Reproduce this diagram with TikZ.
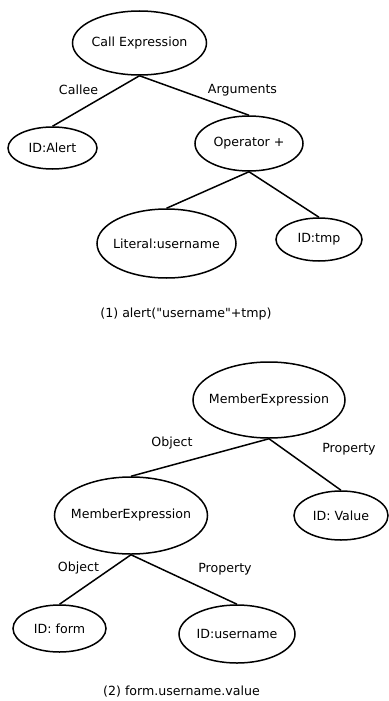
\documentclass[tikz,border=0pt]{standalone}
\usepackage{fontspec}
\setmainfont{DejaVu Sans}
\usetikzlibrary{shapes.geometric}

\begin{document}
\begin{tikzpicture}[
    x=1pt, y=-1pt,
    every node/.style={font=\fontsize{12.6pt}{15pt}\selectfont},
    astnode/.style={ellipse, draw, line width=1.5pt, inner sep=0pt},
    branch/.style={line width=1.5pt},
    rel/.style={inner sep=0pt}
]
\useasboundingbox (0,0) rectangle (388,701);

% (1) call expression
\node[astnode, minimum width=134, minimum height=64, label=center:Call Expression] (call) at (139.5,43) {};
\node[astnode, minimum width=89, minimum height=42, label=center:ID:Alert] (alert) at (52.5,148) {};
\node[astnode, minimum width=108, minimum height=55, label=center:Operator +] (plus) at (249,143.5) {};
\node[astnode, minimum width=139, minimum height=69, label=center:Literal:username] (lit) at (166.5,243.5) {};
\node[astnode, minimum width=86, minimum height=43, label=center:ID:tmp] (tmp) at (319,239.5) {};

\draw[branch] (call.south) -- (alert.north);
\draw[branch] (call.south) -- (plus.north);
\draw[branch] (plus.south) -- (lit.north);
\draw[branch] (plus.south) -- (tmp.north);

\node[rel] (callee) at (78.5,90) {Callee};
\node[rel] (args) at (242.5,90) {Arguments};
\node[rel] (cap1) at (186,314) {(1) alert(\textquotedbl username\textquotedbl+tmp)};

% (2) member expression
\node[astnode, minimum width=152, minimum height=76, label=center:MemberExpression] (mem1) at (269,400) {};
\node[astnode, minimum width=153, minimum height=77, label=center:MemberExpression] (mem2) at (131,515.5) {};
\node[astnode, minimum width=94, minimum height=49, label=center:ID: Value] (val) at (341,515.5) {};
\node[astnode, minimum width=93, minimum height=47, label=center:ID: form] (form) at (59.5,628.5) {};
\node[astnode, minimum width=116, minimum height=58, label=center:ID:username] (uname) at (237,634) {};

\draw[branch] (mem1.south) -- (mem2.north);
\draw[branch] (mem1.south) -- (val.north);
\draw[branch] (mem2.south) -- (form.north);
\draw[branch] (mem2.south) -- (uname.north);

\node[rel] (obj1) at (172,443) {Object};
\node[rel] (prop1) at (349,449) {Property};
\node[rel] (obj2) at (78.5,568) {Object};
\node[rel] (prop2) at (225,569) {Property};
\node[rel] (cap2) at (181.5,692) {(2) form.username.value};

\end{tikzpicture}
\end{document}
